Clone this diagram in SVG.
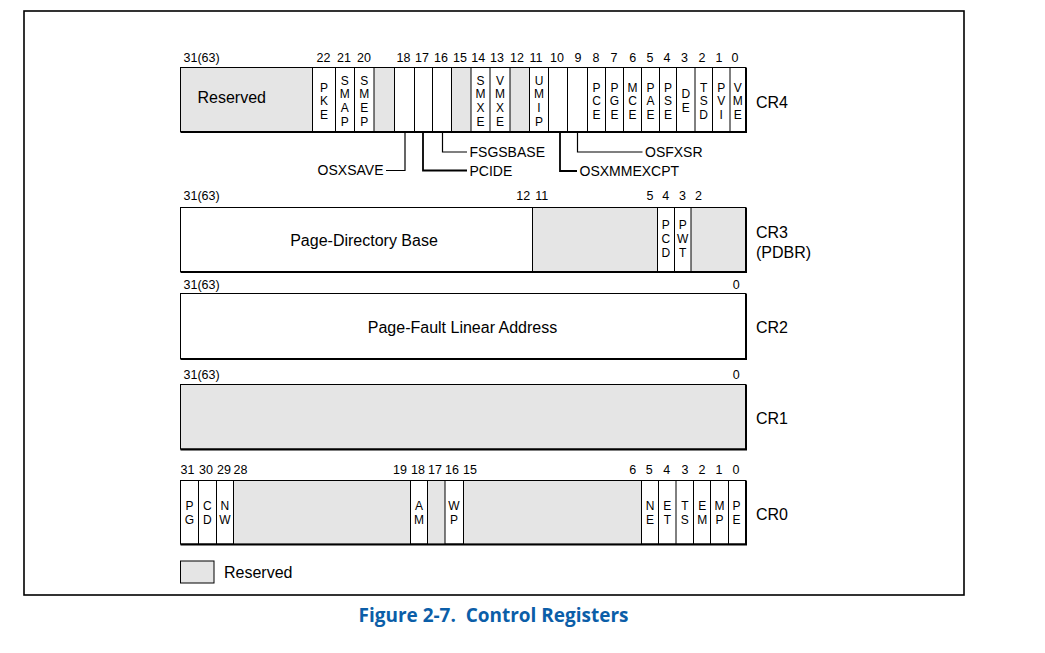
<svg xmlns="http://www.w3.org/2000/svg" width="1045" height="653" viewBox="0 0 1045 653">
<style>
text{font-family:"Liberation Sans",Arial,sans-serif;fill:#000}
.bit{font-size:12.5px;text-anchor:middle}
.bitl{font-size:12.5px}
.l{font-size:12px;text-anchor:middle}
.name{font-size:16px}
.big{font-size:16px}
.call{font-size:14px}
.box{fill:#fff;stroke:#000;stroke-width:1}
.res{fill:#e5e5e5}
.dv{stroke:#000;stroke-width:1;fill:none}
.edge{stroke:#000;stroke-width:2;fill:none}
.conn{stroke:#000;stroke-width:1.2;fill:none}
.connb{stroke:#000;stroke-width:1.8;fill:none}
.cap{font-family:"Open Sans","Noto Sans",sans-serif;font-weight:700;font-size:20px;fill:#0b5ea8}
</style>
<rect width="1045" height="653" fill="#fff"/>
<rect id="frame" x="24" y="11" width="940" height="584" fill="none" stroke="#000" stroke-width="1.6"/>

<g id="cr4">
<rect class="box" x="180.5" y="67.5" width="565" height="64"/>
<rect class="res" x="181" y="68" width="131.5" height="63"/>
<rect class="res" x="374" y="68" width="20.5" height="63"/>
<rect class="res" x="451.5" y="68" width="19.5" height="63"/>
<rect class="res" x="510" y="68" width="19.5" height="63"/>
<path class="dv" d="M312.5,67.5V131.5M335.5,67.5V131.5M354.5,67.5V131.5M374,67.5V131.5M394.5,67.5V131.5M414.5,67.5V131.5M432.5,67.5V131.5M451.5,67.5V131.5M471,67.5V131.5M490,67.5V131.5M510,67.5V131.5M529.5,67.5V131.5M548.5,67.5V131.5M567.5,67.5V131.5M587.5,67.5V131.5M605.5,67.5V131.5M623.5,67.5V131.5M641.5,67.5V131.5M659.5,67.5V131.5M676.5,67.5V131.5M695,67.5V131.5M712.5,67.5V131.5M730,67.5V131.5"/>
<path class="edge" d="M180.5,132H746V67.5"/>
<text class="bitl" x="183.5" y="61.5">31(63)</text>
<text class="bit" y="61.5"><tspan x="323.5">22</tspan><tspan x="344">21</tspan><tspan x="364">20</tspan><tspan x="403.5">18</tspan><tspan x="422">17</tspan><tspan x="441">16</tspan><tspan x="460">15</tspan><tspan x="478.3">14</tspan><tspan x="497">13</tspan><tspan x="517">12</tspan><tspan x="536">11</tspan><tspan x="557">10</tspan><tspan x="578">9</tspan><tspan x="596">8</tspan><tspan x="614">7</tspan><tspan x="632.7">6</tspan><tspan x="650">5</tspan><tspan x="667">4</tspan><tspan x="684.5">3</tspan><tspan x="702">2</tspan><tspan x="719">1</tspan><tspan x="735">0</tspan></text>
<text class="big" x="197.5" y="103.3">Reserved</text>
<text class="l"><tspan x="324" y="91.6">P</tspan><tspan x="324" y="105.3">K</tspan><tspan x="324" y="119">E</tspan></text>
<text class="l"><tspan x="344.8" y="84.7">S</tspan><tspan x="344.8" y="98.4">M</tspan><tspan x="344.8" y="112.1">A</tspan><tspan x="344.8" y="125.8">P</tspan></text>
<text class="l"><tspan x="364.2" y="84.7">S</tspan><tspan x="364.2" y="98.4">M</tspan><tspan x="364.2" y="112.1">E</tspan><tspan x="364.2" y="125.8">P</tspan></text>
<text class="l"><tspan x="480.5" y="84.7">S</tspan><tspan x="480.5" y="98.4">M</tspan><tspan x="480.5" y="112.1">X</tspan><tspan x="480.5" y="125.8">E</tspan></text>
<text class="l"><tspan x="500" y="84.7">V</tspan><tspan x="500" y="98.4">M</tspan><tspan x="500" y="112.1">X</tspan><tspan x="500" y="125.8">E</tspan></text>
<text class="l"><tspan x="539" y="84.7">U</tspan><tspan x="539" y="98.4">M</tspan><tspan x="539" y="112.1">I</tspan><tspan x="539" y="125.8">P</tspan></text>
<text class="l"><tspan x="596.5" y="91.6">P</tspan><tspan x="596.5" y="105.3">C</tspan><tspan x="596.5" y="119">E</tspan></text>
<text class="l"><tspan x="614.5" y="91.6">P</tspan><tspan x="614.5" y="105.3">G</tspan><tspan x="614.5" y="119">E</tspan></text>
<text class="l"><tspan x="632.5" y="91.6">M</tspan><tspan x="632.5" y="105.3">C</tspan><tspan x="632.5" y="119">E</tspan></text>
<text class="l"><tspan x="650.5" y="91.6">P</tspan><tspan x="650.5" y="105.3">A</tspan><tspan x="650.5" y="119">E</tspan></text>
<text class="l"><tspan x="668" y="91.6">P</tspan><tspan x="668" y="105.3">S</tspan><tspan x="668" y="119">E</tspan></text>
<text class="l"><tspan x="685.8" y="98.4">D</tspan><tspan x="685.8" y="112.1">E</tspan></text>
<text class="l"><tspan x="703.7" y="91.6">T</tspan><tspan x="703.7" y="105.3">S</tspan><tspan x="703.7" y="119">D</tspan></text>
<text class="l"><tspan x="721.2" y="91.6">P</tspan><tspan x="721.2" y="105.3">V</tspan><tspan x="721.2" y="119">I</tspan></text>
<text class="l"><tspan x="737.7" y="91.6">V</tspan><tspan x="737.7" y="105.3">M</tspan><tspan x="737.7" y="119">E</tspan></text>
<text class="name" x="756" y="107.5">CR4</text>
</g>

<g id="connectors">
<path class="conn" d="M405,132V170.5H386"/>
<path class="connb" d="M423,132V170.5H467"/>
<path class="conn" d="M442.5,132V152H467"/>
<path class="connb" d="M560,132V171H577"/>
<path class="conn" d="M577.5,132V152H642.5"/>
</g>
<g id="callouts">
<text class="call" x="383.5" y="175" text-anchor="end">OSXSAVE</text>
<text class="call" x="469.5" y="157">FSGSBASE</text>
<text class="call" x="469.5" y="175.5">PCIDE</text>
<text class="call" x="579.5" y="176">OSXMMEXCPT</text>
<text class="call" x="645" y="157">OSFXSR</text>
</g>

<g id="cr3">
<rect class="box" x="180.5" y="207.5" width="565" height="64"/>
<rect class="res" x="532.5" y="208" width="125" height="63"/>
<rect class="res" x="691" y="208" width="54.5" height="63"/>
<path class="dv" d="M532.5,207.5V271.5M657.5,207.5V271.5M674.5,207.5V271.5M691,207.5V271.5"/>
<path class="edge" d="M180.5,272H746V207.5"/>
<text class="bitl" x="183.5" y="200">31(63)</text>
<text class="bit" y="200"><tspan x="523.3">12</tspan><tspan x="541.7">11</tspan><tspan x="650">5</tspan><tspan x="665.8">4</tspan><tspan x="682.5">3</tspan><tspan x="698.5">2</tspan></text>
<text class="big" x="364" y="246" text-anchor="middle">Page-Directory Base</text>
<text class="l"><tspan x="665.8" y="229">P</tspan><tspan x="665.8" y="242.8">C</tspan><tspan x="665.8" y="256.6">D</tspan></text>
<text class="l"><tspan x="682.7" y="229">P</tspan><tspan x="682.7" y="242.8">W</tspan><tspan x="682.7" y="256.6">T</tspan></text>
<text class="name" x="756" y="237.7">CR3</text>
<text class="name" x="756" y="258">(PDBR)</text>
</g>

<g id="cr2">
<rect class="box" x="180.5" y="293.5" width="565" height="65"/>
<path class="edge" d="M180.5,359H746V293.5"/>
<text class="bitl" x="183.5" y="288.5">31(63)</text>
<text class="bit" x="736.3" y="288.5">0</text>
<text class="big" x="462.5" y="332.7" text-anchor="middle">Page-Fault Linear Address</text>
<text class="name" x="756" y="333.3">CR2</text>
</g>

<g id="cr1">
<rect class="box" x="180.5" y="384.5" width="565" height="64.5" style="fill:#e5e5e5"/>
<path class="edge" d="M180.5,449.5H746V384.5"/>
<text class="bitl" x="183.5" y="378.5">31(63)</text>
<text class="bit" x="736.3" y="378.5">0</text>
<text class="name" x="756" y="424">CR1</text>
</g>

<g id="cr0">
<rect class="box" x="180.5" y="480.5" width="565" height="63.5"/>
<rect class="res" x="233.5" y="481" width="177" height="62.5"/>
<rect class="res" x="427.5" y="481" width="17.5" height="62.5"/>
<rect class="res" x="463.5" y="481" width="178" height="62.5"/>
<path class="dv" d="M198.5,480.5V544M216.5,480.5V544M233.5,480.5V544M410.5,480.5V544M427.5,480.5V544M445,480.5V544M463.5,480.5V544M641.5,480.5V544M658.5,480.5V544M676,480.5V544M693.5,480.5V544M710.5,480.5V544M728.5,480.5V544"/>
<path class="edge" d="M180.5,544.5H746V480.5"/>
<text class="bit" y="474"><tspan x="187.5">31</tspan><tspan x="206">30</tspan><tspan x="224">29</tspan><tspan x="240.5">28</tspan><tspan x="400">19</tspan><tspan x="418">18</tspan><tspan x="435">17</tspan><tspan x="452">16</tspan><tspan x="470">15</tspan><tspan x="632.7">6</tspan><tspan x="649.3">5</tspan><tspan x="666.7">4</tspan><tspan x="685">3</tspan><tspan x="702">2</tspan><tspan x="719">1</tspan><tspan x="736">0</tspan></text>
<text class="l"><tspan x="189.5" y="510.2">P</tspan><tspan x="189.5" y="523.7">G</tspan></text>
<text class="l"><tspan x="207.3" y="510.2">C</tspan><tspan x="207.3" y="523.7">D</tspan></text>
<text class="l"><tspan x="224.8" y="510.2">N</tspan><tspan x="224.8" y="523.7">W</tspan></text>
<text class="l"><tspan x="419" y="510.2">A</tspan><tspan x="419" y="523.7">M</tspan></text>
<text class="l"><tspan x="454" y="510.2">W</tspan><tspan x="454" y="523.7">P</tspan></text>
<text class="l"><tspan x="650" y="510.2">N</tspan><tspan x="650" y="523.7">E</tspan></text>
<text class="l"><tspan x="667.3" y="510.2">E</tspan><tspan x="667.3" y="523.7">T</tspan></text>
<text class="l"><tspan x="684.8" y="510.2">T</tspan><tspan x="684.8" y="523.7">S</tspan></text>
<text class="l"><tspan x="702.2" y="510.2">E</tspan><tspan x="702.2" y="523.7">M</tspan></text>
<text class="l"><tspan x="719.5" y="510.2">M</tspan><tspan x="719.5" y="523.7">P</tspan></text>
<text class="l"><tspan x="736.5" y="510.2">P</tspan><tspan x="736.5" y="523.7">E</tspan></text>
<text class="name" x="756" y="520">CR0</text>
</g>

<g id="legend">
<rect x="180.5" y="561" width="33.5" height="22" fill="#e5e5e5" stroke="#000" stroke-width="1"/>
<text class="big" x="224" y="578.3">Reserved</text>
</g>

<text id="caption" class="cap" x="358.5" y="621.5" textLength="270" lengthAdjust="spacingAndGlyphs">Figure 2-7.&#160; Control Registers</text>
</svg>
